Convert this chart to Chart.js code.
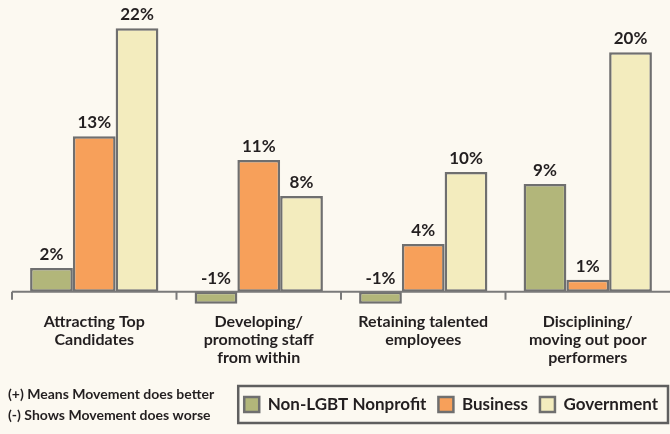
<!DOCTYPE html>
<html>
<head>
<meta charset="utf-8">
<script src="https://cdn.jsdelivr.net/npm/chart.js@4.4.0/dist/chart.umd.min.js"></script>
<style>
  html, body { margin: 0; padding: 0; background: #fcf9f1; }
  #wrap { width: 670px; height: 434px; position: relative; }
</style>
</head>
<body>
<div id="wrap"><canvas id="gapChart"></canvas></div>
<script>
const categories = [
  ['Attracting Top', 'Candidates'],
  ['Developing/', 'promoting staff', 'from within'],
  ['Retaining talented', 'employees'],
  ['Disciplining/', 'moving out poor', 'performers']
];
const nonprofit = [2, -1, -1, 9];
const business = [13, 11, 4, 1];
const government = [22, 8, 10, 20];
const notes = ['(+) Means Movement does better', '(-) Shows Movement does worse'];

const FONT = 'Lato, "Open Sans", sans-serif';
const EDGE = '#6f6f6f';

// axis line at zero with tick marks between the groups
const zeroLine = {
  id: 'zeroLine',
  afterDatasetsDraw(chart) {
    const { ctx, chartArea, scales } = chart;
    const y0 = scales.y.getPixelForValue(0);
    const n = categories.length;
    const w = (chartArea.right - chartArea.left) / n;
    ctx.save();
    ctx.strokeStyle = '#7a7a7a';
    ctx.lineWidth = 2;
    ctx.beginPath();
    ctx.moveTo(chartArea.left, y0);
    ctx.lineTo(chartArea.right, y0);
    for (let i = 0; i < n; i++) {
      const x = chartArea.left + i * w;
      ctx.moveTo(x, y0);
      ctx.lineTo(x, y0 + 8);
    }
    ctx.stroke();
    ctx.restore();
  }
};

// percentage above each bar (negatives sit above the zero line)
const valueLabels = {
  id: 'valueLabels',
  afterDatasetsDraw(chart) {
    const { ctx, scales } = chart;
    const y0 = scales.y.getPixelForValue(0);
    ctx.save();
    ctx.font = 'bold 17px ' + FONT;
    ctx.fillStyle = '#231f20';
    ctx.textAlign = 'center';
    ctx.textBaseline = 'bottom';
    chart.data.datasets.forEach((ds, i) => {
      chart.getDatasetMeta(i).data.forEach((bar, j) => {
        const top = Math.min(bar.y, y0);
        ctx.fillText(ds.data[j] + '%', bar.x, top - 5);
      });
    });
    ctx.restore();
  }
};

// box around the legend and the notes on its left
const legendBox = {
  id: 'legendBox',
  afterDraw(chart) {
    const { ctx, legend } = chart;
    const boxes = legend.legendHitBoxes;
    if (!boxes.length) return;
    const first = boxes[0];
    const left = first.left - 6;
    const top = first.top - 10;
    const bottom = first.top + first.height + 10;
    ctx.save();
    ctx.strokeStyle = '#5f5f5f';
    ctx.lineWidth = 2.5;
    ctx.strokeRect(left, top, 668 - left, bottom - top);
    ctx.font = 'bold 14px ' + FONT;
    ctx.fillStyle = '#231f20';
    ctx.textAlign = 'left';
    ctx.textBaseline = 'middle';
    ctx.fillText(notes[0], 8, top + 8);
    ctx.fillText(notes[1], 8, bottom - 8);
    ctx.restore();
  }
};

new Chart(document.getElementById('gapChart'), {
  type: 'bar',
  data: {
    labels: categories,
    datasets: [
      { label: 'Non-LGBT Nonprofit', data: nonprofit, backgroundColor: '#b2b67a' },
      { label: 'Business', data: business, backgroundColor: '#f7a05a' },
      { label: 'Government', data: government, backgroundColor: '#f3ecbe' }
    ].map(d => Object.assign(d, { borderColor: EDGE, borderWidth: 2.5, borderSkipped: false }))
  },
  options: {
    responsive: true,
    maintainAspectRatio: false,
    animation: false,
    layout: { padding: { top: 2, left: 12, right: 0, bottom: 11 } },
    datasets: { bar: { categoryPercentage: 0.78, barPercentage: 1 } },
    scales: {
      x: {
        grid: { display: false, drawTicks: false },
        border: { display: false },
        ticks: { color: '#231f20', font: { family: FONT, size: 16, weight: 'bold', lineHeight: 1.13 }, padding: 2, maxRotation: 0, autoSkip: false },
        afterFit(scale) { scale.height = 73; }
      },
      y: { display: false, min: -1.6, max: 24.2 }
    },
    plugins: {
      legend: {
        position: 'bottom',
        align: 'end',
        labels: {
          color: '#231f20',
          font: { family: FONT, size: 17, weight: 'bold' },
          boxWidth: 15,
          boxHeight: 15,
          padding: 12
        }
      },
      tooltip: { enabled: false }
    }
  },
  plugins: [zeroLine, valueLabels, legendBox]
});
</script>
</body>
</html>
